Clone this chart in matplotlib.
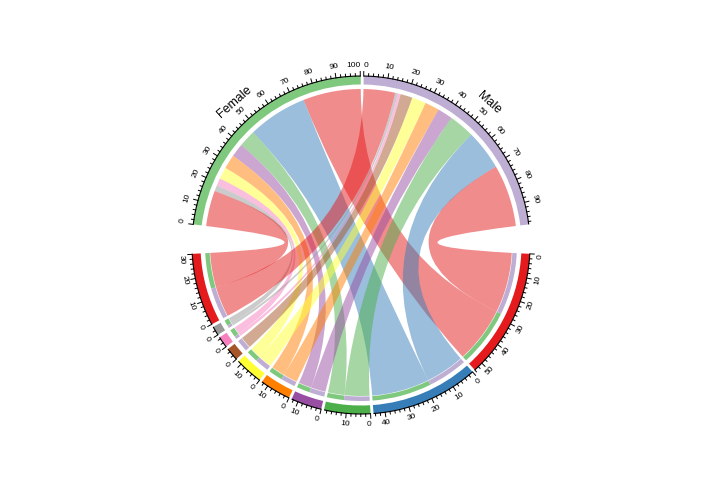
import numpy as np
import matplotlib.pyplot as plt
from matplotlib.patches import Wedge, PathPatch
from matplotlib.path import Path

plt.rcParams['font.family'] = ['Liberation Sans', 'DejaVu Sans']

# data: share (%) of each gender in ten groups
genders = ["Female", "Male"]
categories = ["G1", "G2", "G3", "G4", "G5", "G6", "G7", "G8", "G9", "G10"]
female = [26.0, 26.8, 7.7, 6.0, 6.4, 5.3, 0.0, 3.4, 2.6, 16.0]
male = [28.0, 18.0, 11.5, 6.8, 6.5, 6.3, 5.4, 1.3, 1.2, 14.2]

gender_colors = ["#7FC97F", "#BEAED4"]
set1 = ["#E41A1C", "#377EB8", "#4DAF4A", "#984EA3", "#FF7F00",
        "#FFFF33", "#A65628", "#F781BF", "#999999"]
cat_colors = [set1[j % len(set1)] for j in range(len(categories))]

# geometry (pixels)
W, H = 720, 498
cx, cy = 361, 253
R_OUT, R_IN = 169, 160.5
R_LINK = 156          # link ends on gender side
R_BAR_OUT = 156       # target bars on category side
R_BAR_IN = 151.5
R_LINK2 = 151         # link ends on category side
R_LAB = 180
GAP, BIG_GAP = 1.0, 10.0
TICK_FS = 6

mat = np.array([female, male])
row_tot = mat.sum(axis=1)
col_tot = mat.sum(axis=0)
total = mat.sum()
n_gap = (len(genders) - 1) + (len(categories) - 1)
dpu = (360 - GAP * n_gap - 2 * BIG_GAP) / (2 * total)
start = 90 + (total * dpu + GAP * (len(genders) - 1)) / 2

# sectors go clockwise (decreasing angle)
sectors = []
a = start
for i, g in enumerate(genders):
    sectors.append((g, a, row_tot[i], gender_colors[i], True))
    a -= row_tot[i] * dpu
    a -= GAP if i < len(genders) - 1 else BIG_GAP
for j, c in enumerate(categories):
    sectors.append((c, a, col_tot[j], cat_colors[j], False))
    a -= col_tot[j] * dpu + GAP

# link positions inside sectors
row_pos = {}
for i in range(len(genders)):
    a = sectors[i][1]
    for j in reversed(range(len(categories))):
        v = mat[i, j]
        if v == 0:
            continue
        row_pos[(i, j)] = (a, a - v * dpu)
        a -= v * dpu
col_pos = {}
for j in range(len(categories)):
    a = sectors[len(genders) + j][1]
    for i in reversed(range(len(genders))):
        v = mat[i, j]
        if v == 0:
            continue
        col_pos[(i, j)] = (a, a - v * dpu)
        a -= v * dpu


def arc(a1, a2, r, n=60):
    t = np.radians(np.linspace(a1, a2, n))
    return np.column_stack([cx + r * np.cos(t), cy + r * np.sin(t)])


def ribbon(a1, a2, r1, b1, b2, r2):
    A = arc(a1, a2, r1)
    B = arc(b1, b2, r2)
    verts = list(map(tuple, A)) + [(cx, cy), tuple(B[0])] + list(map(tuple, B[1:])) \
        + [(cx, cy), tuple(A[0]), tuple(A[0])]
    codes = [Path.MOVETO] + [Path.LINETO] * (len(A) - 1) + [Path.CURVE3, Path.CURVE3] \
        + [Path.LINETO] * (len(B) - 1) + [Path.CURVE3, Path.CURVE3, Path.CLOSEPOLY]
    return Path(verts, codes)


fig = plt.figure(figsize=(W / 100, H / 100), dpi=100)
ax = fig.add_axes([0, 0, 1, 1])
ax.set_xlim(0, W)
ax.set_ylim(0, H)
ax.axis('off')

# links
for i in range(len(genders)):
    for j in range(len(categories)):
        if (i, j) not in row_pos:
            continue
        a1, a2 = row_pos[(i, j)]
        b1, b2 = col_pos[(i, j)]
        p = ribbon(a1, a2, R_LINK, b1, b2, R_LINK2)
        ax.add_patch(PathPatch(p, facecolor=cat_colors[j], alpha=0.5, lw=0))
        # bar showing the source on the target end
        ax.add_patch(Wedge((cx, cy), R_BAR_OUT, b2, b1, width=R_BAR_OUT - R_BAR_IN,
                           facecolor=gender_colors[i], lw=0))

# outer grid track + axis
for name, a0, length, col, top in sectors:
    a_end = a0 - length * dpu
    ax.add_patch(Wedge((cx, cy), R_OUT, a_end, a0, width=R_OUT - R_IN,
                       facecolor=col, lw=0))
    line = arc(a0, a_end, R_OUT)
    ax.plot(line[:, 0], line[:, 1], color='black', lw=0.8, solid_capstyle='butt')
    for v in np.arange(0, length + 1e-6, 2):
        ang = np.radians(a0 - v * dpu)
        major = int(round(v)) % 10 == 0
        r2 = R_OUT + (4.5 if major else 2.5)
        ax.plot([cx + R_OUT * np.cos(ang), cx + r2 * np.cos(ang)],
                [cy + R_OUT * np.sin(ang), cy + r2 * np.sin(ang)],
                color='black', lw=0.7)
        if major:
            lab = str(int(round(v)))
            deg = np.degrees(ang)
            rot = deg - 90 if top else deg + 90
            # keep first / last label inside the sector
            half_w = len(lab) * 0.556 * TICK_FS * 100 / 72 / 2
            half_deg = np.degrees(half_w / R_LAB)
            ha = 'center'
            if v * dpu < half_deg:
                ha = 'left' if top else 'right'
            elif (length - v) * dpu < half_deg:
                ha = 'right' if top else 'left'
            ax.text(cx + R_LAB * np.cos(ang), cy + R_LAB * np.sin(ang), lab,
                    fontsize=TICK_FS, rotation=rot, rotation_mode='anchor',
                    ha=ha, va='center', color='black')
    if top:
        mid = np.radians(a0 - length * dpu / 2)
        ax.text(cx + 191 * np.cos(mid), cy + 191 * np.sin(mid), name,
                fontsize=9, rotation=np.degrees(mid) - 90, rotation_mode='anchor',
                ha='center', va='center')

fig.savefig("out.png", dpi=100)
